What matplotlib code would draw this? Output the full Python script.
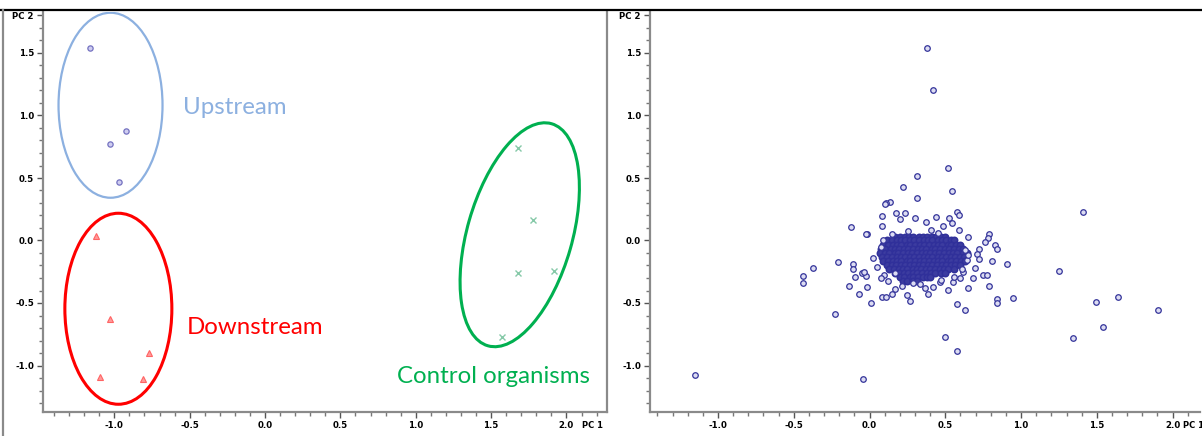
import matplotlib
matplotlib.use("Agg")
import matplotlib.pyplot as plt
from matplotlib.patches import Ellipse
from matplotlib.lines import Line2D
from matplotlib.ticker import MultipleLocator
import matplotlib.transforms as mtransforms

# ---------------- data ----------------
# Left panel: sample scores PC1 / PC2
up_x = [-1.161, -0.924, -1.029, -0.967]
up_y = [1.538, 0.878, 0.772, 0.468]

down_x = [-1.121, -1.029, -0.772, -1.095, -0.808]
down_y = [0.036, -0.628, -0.902, -1.094, -1.110]

ctrl_x = [1.681, 1.776, 1.681, 1.920, 1.573]
ctrl_y = [0.738, 0.164, -0.258, -0.242, -0.770]

group_labels = ["Upstream", "Downstream", "Control organisms"]

# Right panel: variable loadings, scattered points
load_x = [0.382, 0.421, 1.411, 1.253, 1.493, 1.638, 1.904, 1.543, 1.343, -1.152,
          -0.041, 0.498, 0.580, 0.135, 0.109, -0.124, 0.081, 0.081, -0.015, -0.026,
          -0.206, -0.371, -0.437, -0.437, -0.107, -0.107, -0.096, -0.051, -0.023, -0.036,
          -0.133, -0.015, -0.069, 0.010, -0.228, 0.081, 0.109, 0.096, 0.074, 0.168,
          0.168, 0.147, 0.025, 0.048, 0.074, 0.091, 0.516, 0.316, 0.223, 0.543,
          0.316, 0.576, 0.593, 0.234, 0.300, 0.373, 0.439, 0.527, 0.543, 0.487,
          0.593, 0.652, 0.791, 0.784, 0.762, 0.828, 0.844, 0.725, 0.712, 0.725,
          0.807, 0.910, 0.696, 0.751, 0.778, 0.681, 0.791, 0.652, 0.949, 0.844,
          0.844, 0.580, 0.630, 0.520, 0.421, 0.366, 0.388, 0.267, 0.246, 0.289,
          0.465, 0.553, 0.597, 0.619, 0.642, 0.652, 0.630, 0.102, 0.175, 0.201,
          0.255, 0.405, 0.455, 0.150, 0.120, 0.335, 0.215, 0.470, 0.560, 0.610]
load_y = [1.538, 1.204, 0.228, -0.242, -0.494, -0.450, -0.556, -0.690, -0.782, -1.076,
          -1.108, -0.770, -0.882, 0.310, 0.298, 0.110, 0.196, 0.116, 0.052, 0.052,
          -0.174, -0.220, -0.284, -0.338, -0.188, -0.230, -0.294, -0.258, -0.284, -0.252,
          -0.362, -0.370, -0.428, -0.498, -0.590, -0.454, -0.450, -0.276, -0.302, -0.262,
          -0.390, -0.428, -0.142, -0.210, -0.050, 0.004, 0.578, 0.516, 0.430, 0.398,
          0.338, 0.230, 0.204, 0.222, 0.178, 0.150, 0.186, 0.178, 0.142, 0.116,
          0.084, 0.030, 0.050, 0.018, -0.010, -0.036, -0.070, -0.070, -0.108, -0.150,
          -0.162, -0.188, -0.222, -0.276, -0.276, -0.302, -0.364, -0.382, -0.462, -0.470,
          -0.502, -0.508, -0.556, -0.396, -0.370, -0.382, -0.428, -0.482, -0.436, -0.338,
          -0.330, -0.330, -0.302, -0.250, -0.156, -0.116, -0.076, 0.292, 0.222, 0.170,
          0.075, 0.085, 0.062, 0.050, -0.320, -0.345, -0.360, -0.318, -0.290, -0.225]

# Right panel: the dense core of loadings, row by row (PC2 value -> PC1 values)
core_y = [0.030, 0.002, -0.033, -0.066, -0.098, -0.131, -0.163, -0.196, -0.228, -0.260, -0.292, -0.322]
core_x = [
    [0.17, 0.20, 0.235, 0.26, 0.29, 0.325, 0.35, 0.38, 0.415, 0.44, 0.47, 0.50],
    [0.115, 0.145, 0.18, 0.205, 0.235, 0.27, 0.295, 0.325, 0.36, 0.385, 0.415, 0.45, 0.475, 0.505, 0.535, 0.56],
    [0.09, 0.12, 0.155, 0.18, 0.21, 0.245, 0.27, 0.30, 0.335, 0.36, 0.39, 0.425, 0.45, 0.48, 0.515, 0.54, 0.57, 0.60],
    [0.075, 0.105, 0.14, 0.165, 0.195, 0.23, 0.255, 0.285, 0.32, 0.345, 0.375, 0.41, 0.435, 0.465, 0.50, 0.525, 0.555, 0.59, 0.615],
    [0.07, 0.10, 0.13, 0.165, 0.19, 0.22, 0.255, 0.28, 0.31, 0.345, 0.37, 0.40, 0.435, 0.46, 0.49, 0.525, 0.55, 0.58, 0.615, 0.64],
    [0.085, 0.115, 0.145, 0.18, 0.205, 0.235, 0.27, 0.295, 0.325, 0.36, 0.385, 0.415, 0.45, 0.475, 0.505, 0.54, 0.565, 0.595, 0.625],
    [0.09, 0.12, 0.155, 0.18, 0.21, 0.245, 0.27, 0.30, 0.335, 0.36, 0.39, 0.425, 0.45, 0.48, 0.515, 0.54, 0.57, 0.605, 0.63],
    [0.115, 0.145, 0.175, 0.205, 0.235, 0.265, 0.295, 0.325, 0.355, 0.385, 0.415, 0.445, 0.475, 0.505, 0.535, 0.565, 0.595],
    [0.13, 0.16, 0.195, 0.22, 0.25, 0.285, 0.31, 0.34, 0.375, 0.40, 0.43, 0.465, 0.49, 0.52, 0.555],
    [0.165, 0.195, 0.225, 0.255, 0.29, 0.315, 0.345, 0.38, 0.405, 0.435, 0.47, 0.495],
    [0.20, 0.23, 0.265, 0.29, 0.32, 0.355, 0.38, 0.40],
    [0.22, 0.25, 0.285, 0.31],
]

xticks = [-1.0, -0.5, 0.0, 0.5, 1.0, 1.5, 2.0]
xtick_labels = ["-1.0", "-0.5", "0.0", "0.5", "1.0", "1.5", "2.0"]
yticks = [-1.0, -0.5, 0.0, 0.5, 1.0, 1.5, 1.8]
ytick_labels = ["-1.0", "-0.5", "0.0", "0.5", "1.0", "1.5", "PC 2"]

# ---------------- figure ----------------
W, H = 1202, 436
DPI = 100
fig = plt.figure(figsize=(W / DPI, H / DPI), dpi=DPI)
fig.patch.set_facecolor("white")

def px_axes(x0, x1, y0, y1):
    return fig.add_axes([x0 / W, 1 - y1 / H, (x1 - x0) / W, (y1 - y0) / H])

axL = px_axes(43, 607, 12, 412)
axR = px_axes(650, 1200, 12, 412)

axL.set_xlim(-1.473, 2.269)
axR.set_xlim(-1.449, 2.181)
pc1_pos = {axL: 2.10, axR: 2.07}
for ax in (axL, axR):
    ax.set_ylim(-1.372, 1.828)
    for s in ("top", "right"):
        ax.spines[s].set_visible(False)
    for s in ("left", "bottom"):
        ax.spines[s].set_color("#8a8a8a")
        ax.spines[s].set_linewidth(1.6)
    ax.set_xticks(xticks)
    ax.set_xticklabels(xtick_labels)
    ax.set_yticks(yticks)
    ax.set_yticklabels(ytick_labels)
    ax.xaxis.set_minor_locator(MultipleLocator(0.1))
    ax.yaxis.set_minor_locator(MultipleLocator(0.1))
    ax.tick_params(which="major", direction="out", length=4, width=1, color="#555555",
                   labelsize=6.2, pad=2.5)
    ax.tick_params(which="minor", direction="out", length=3, width=1, color="#777777")
    for lab in ax.get_xticklabels() + ax.get_yticklabels():
        lab.set_fontweight("bold")
    ax.text(pc1_pos[ax], -1.372, "PC 1", fontsize=6.0, fontweight="bold", ha="left", va="top",
            transform=ax.transData + mtransforms.ScaledTranslation(0, -6.5 / 72, fig.dpi_scale_trans))
    ax.patch.set_alpha(0)

# right spine of the left panel (frame)
axL.spines["right"].set_visible(True)
axL.spines["right"].set_color("#8a8a8a")
axL.spines["right"].set_linewidth(1.6)

# ---------------- left panel marks ----------------
axL.plot(up_x, up_y, "o", ms=3.8, mfc="#cfcdf0", mec="#7472c0", mew=0.9, ls="none")
axL.plot(down_x, down_y, "^", ms=4.2, mfc="#ff9a9a", mec="#ff6464", mew=0.8, ls="none")
axL.plot(ctrl_x, ctrl_y, "x", ms=4.0, color="#86c9a8", mew=1.0, ls="none")

def px_ellipse(ax, cx, cy, w_px, h_px, angle, color, lw):
    tr = fig.dpi_scale_trans + mtransforms.ScaledTranslation(cx, cy, ax.transData)
    e = Ellipse((0, 0), w_px / DPI, h_px / DPI, angle=angle, transform=tr,
                fill=False, edgecolor=color, linewidth=lw)
    ax.add_patch(e)

px_ellipse(axL, -1.025, 1.082, 104, 185, 0, "#8cb0e0", 1.6)
px_ellipse(axL, -0.973, -0.546, 107, 191, 0, "#ff0000", 2.2)
px_ellipse(axL, 1.690, 0.046, 105, 231, -16, "#00b050", 2.2)

lab_font = "Lato"
axL.text(-0.544, 1.06, group_labels[0], color="#8cb0e0", fontsize=17.3, family=lab_font,
         ha="left", va="center")
axL.text(-0.518, -0.692, group_labels[1], color="#ff0000", fontsize=17.3, family=lab_font,
         ha="left", va="center")
axL.text(0.876, -1.084, group_labels[2], color="#00b050", fontsize=17.3, family=lab_font,
         ha="left", va="center")

# ---------------- right panel marks ----------------
cx_all, cy_all = [], []
for yv, xs in zip(core_y, core_x):
    for xv in xs:
        cx_all.append(xv)
        cy_all.append(yv)
axR.plot(cx_all, cy_all, ls="none", marker="o", ms=4.6, mfc="#3c3ca0", mec="#30309a", mew=1.1)
axR.plot(load_x, load_y, ls="none", marker="o", ms=4.0, mfc="#dcdcf2", mec="#34349a", mew=0.9)

# ---------------- outer frame lines ----------------
fig.add_artist(Line2D([0, 1], [1 - 10 / H, 1 - 10 / H], transform=fig.transFigure,
                      color="black", lw=1.6))
fig.add_artist(Line2D([3 / W, 3 / W], [0, 1 - 10 / H], transform=fig.transFigure,
                      color="#8a8a8a", lw=1.6))

fig.savefig("out.png", dpi=DPI, facecolor="white")
